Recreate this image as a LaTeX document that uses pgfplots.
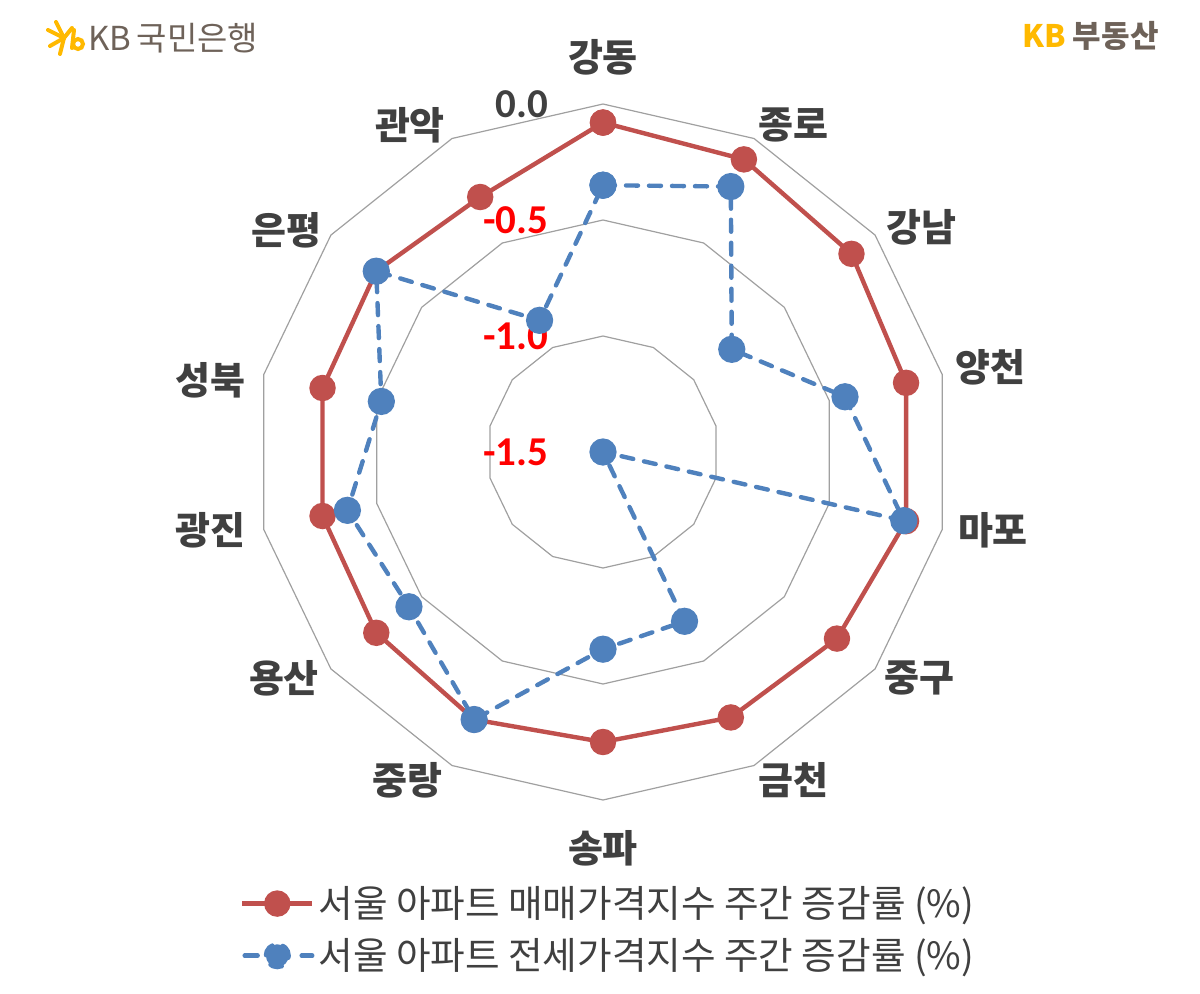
\documentclass[border=0pt]{standalone}
\usepackage{fontspec}
\setmainfont{Noto Sans CJK KR}
\newfontfamily\carlito{Carlito}
\usepackage{pgfplots}
\pgfplotsset{compat=1.18}
\usepackage{pgfplotstable}
\definecolor{redS}{HTML}{C0504D}
\definecolor{blueS}{HTML}{4F81BD}
\definecolor{txt}{HTML}{404040}
\definecolor{gridc}{HTML}{A0A0A0}
\definecolor{kbgold}{HTML}{FFB900}
\definecolor{kbbrown}{HTML}{6E6259}

\pgfplotstableread{
idx sale jeonse
0 -0.08 -0.35
1 -0.10 -0.23
2 -0.13 -0.79
3 -0.16 -0.43
4 -0.16 -0.17
5 -0.21 -1.50
6 -0.23 -0.69
7 -0.25 -0.65
8 -0.22 -0.22
9 -0.25 -0.43
10 -0.26 -0.37
11 -0.26 -0.52
12 -0.25 -0.25
13 -0.28 -0.87
14 -0.08 -0.35
}\data

\begin{document}
\begin{tikzpicture}
\begin{axis}[
  hide axis, scale only axis, width=348pt, height=348pt,
  xmin=-1.5, xmax=1.5, ymin=-1.5, ymax=1.5, clip=false,
  legend image code/.code={\draw[mark repeat=2,mark phase=2,#1] plot coordinates {(0pt,0pt) (17.5pt,0pt) (35pt,0pt)};},
  legend style={at={(-0.022,-0.118)}, anchor=north west, draw=none, fill=none,
    font=\fontsize{18.8}{20}\selectfont\color{txt}, row sep=5pt,
    cells={anchor=west}, inner sep=0pt},
  legend cell align=left,
]
% grid polygons
\addplot[gridc, line width=0.6pt, forget plot] table[x expr={1.5*sin(\thisrow{idx}*360/14)}, y expr={1.5*cos(\thisrow{idx}*360/14)}] {\data};
\addplot[gridc, line width=0.6pt, forget plot] table[x expr={1.0*sin(\thisrow{idx}*360/14)}, y expr={1.0*cos(\thisrow{idx}*360/14)}] {\data};
\addplot[gridc, line width=0.6pt, forget plot] table[x expr={0.5*sin(\thisrow{idx}*360/14)}, y expr={0.5*cos(\thisrow{idx}*360/14)}] {\data};
% series
\addplot[redS, line width=2.2pt, mark=*, mark size=5.5pt, mark options={solid, fill=redS, draw=redS}]
  table[x expr={(\thisrow{sale}+1.5)*sin(\thisrow{idx}*360/14)}, y expr={(\thisrow{sale}+1.5)*cos(\thisrow{idx}*360/14)}] {\data};
\addlegendentry{서울 아파트 매매가격지수 주간 증감률 (\%)}
\addplot[blueS, line width=2.2pt, line cap=round, dash pattern=on 6pt off 5.5pt, mark=*, mark size=5.7pt, mark options={solid, fill=blueS, draw=blueS},
  legend image code/.code={%
    \draw[blueS, line width=2.2pt, line cap=round, dash pattern=on 6.5pt off 22pt, dash phase=-1.2pt] (0pt,0pt) -- (35pt,0pt);
    \fill[blueS] (17.5pt,0pt) circle (5.7pt);}]
  table[x expr={(\thisrow{jeonse}+1.5)*sin(\thisrow{idx}*360/14)}, y expr={(\thisrow{jeonse}+1.5)*cos(\thisrow{idx}*360/14)}] {\data};
\addlegendentry{서울 아파트 전세가격지수 주간 증감률 (\%)}
% ring labels
\node[anchor=east, font=\carlito\bfseries\fontsize{20.5}{22}\selectfont, text=txt] at (axis cs:-0.205,1.50) {0.0};
\node[anchor=east, font=\carlito\bfseries\fontsize{20.5}{22}\selectfont, text=red] at (axis cs:-0.205,1.0) {-0.5};
\node[anchor=east, font=\carlito\bfseries\fontsize{20.5}{22}\selectfont, text=red] at (axis cs:-0.205,0.5) {-1.0};
\node[anchor=east, font=\carlito\bfseries\fontsize{20.5}{22}\selectfont, text=red] at (axis cs:-0.205,0.0) {-1.5};
% category labels
\begin{scope}[every node/.style={font=\bfseries\fontsize{19}{20}\selectfont, text=txt}]
\node at (axis cs:0,1.703) {강동};
\node at (axis cs:0.819,1.409) {종로};
\node at (axis cs:1.371,0.970) {강남};
\node at (axis cs:1.672,0.367) {양천};
\node at (axis cs:1.681,-0.336) {마포};
\node at (axis cs:1.366,-0.974) {중구};
\node at (axis cs:0.819,-1.414) {금천};
\node at (axis cs:0,-1.707) {송파};
\node at (axis cs:-0.841,-1.414) {중랑};
\node at (axis cs:-1.375,-0.974) {용산};
\node at (axis cs:-1.690,-0.336) {광진};
\node at (axis cs:-1.690,0.310) {성북};
\node at (axis cs:-1.366,0.957) {은평};
\node at (axis cs:-0.832,1.409) {관악};
\end{scope}
\end{axis}
% px coordinate scope: px (0,0) top-left
\begin{scope}[shift={(-127.5pt,400pt)}, x=0.5pt, y=-0.5pt]
\path (0,0) rectangle (1200,993);
% KB star logo
\draw[kbgold, line width=2pt, line cap=round] (64,38) -- (56,22);
\draw[kbgold, line width=2pt, line cap=round] (64,38) -- (48,30);
\draw[kbgold, line width=2pt, line cap=round] (64,38) -- (50,46);
\draw[kbgold, line width=2pt, line cap=round] (64,38) -- (60,54);
\draw[kbgold, line width=2pt, line cap=round] (64,38) -- (72,28);
\draw[kbgold, line width=2pt, line cap=round] (74,30) -- (72,48);
\draw[kbgold, line width=2pt] (78,44) circle (5);
\node[anchor=west, text=kbbrown, font=\fontsize{16.5}{18}\selectfont, inner sep=0pt] at (88,38) {KB\,국민은행};
\node[anchor=west, inner sep=0pt, font=\bfseries\fontsize{15.5}{17}\selectfont] at (1022,36) {\textcolor{kbgold}{KB} \textcolor{kbbrown}{부동산}};
\end{scope}
\end{tikzpicture}
\end{document}
